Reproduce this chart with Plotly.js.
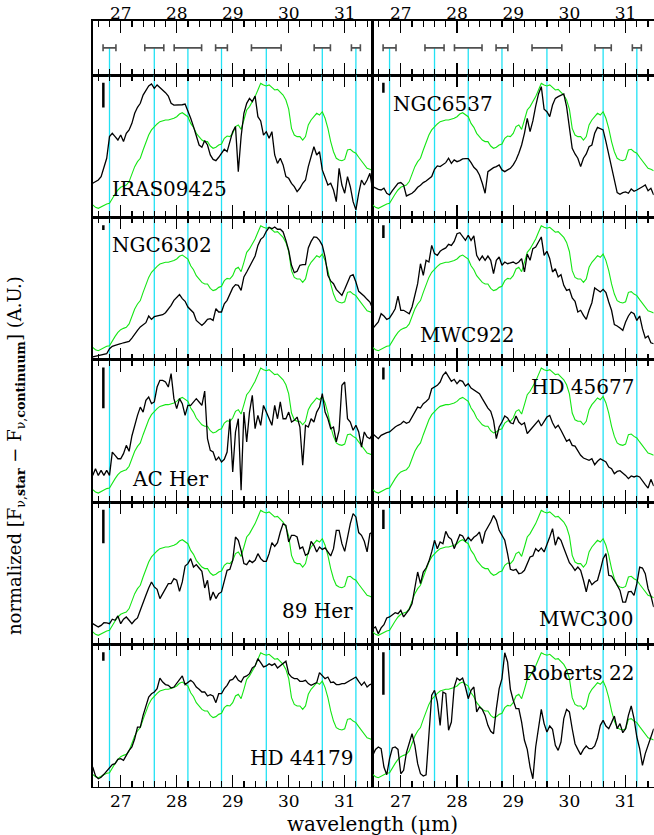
<!DOCTYPE html>
<html>
<head>
<meta charset="utf-8">
<script src="https://cdn.plot.ly/plotly-3.0.1.min.js"></script>
<style>html,body{margin:0;padding:0;background:#fff;}#chart{width:654px;height:835px;}</style>
</head>
<body>
<div id="chart"></div>
<script>
// ---------------- DATA ----------------
const wavelength = [26.50,26.55,26.60,26.65,26.70,26.75,26.80,26.85,26.90,26.95,
27.00,27.05,27.10,27.15,27.20,27.25,27.30,27.35,27.40,27.45,
27.50,27.55,27.60,27.65,27.70,27.75,27.80,27.85,27.90,27.95,
28.00,28.05,28.10,28.15,28.20,28.25,28.30,28.35,28.40,28.45,
28.50,28.55,28.60,28.65,28.70,28.75,28.80,28.85,28.90,28.95,
29.00,29.05,29.10,29.15,29.20,29.25,29.30,29.35,29.40,29.45,
29.50,29.55,29.60,29.65,29.70,29.75,29.80,29.85,29.90,29.95,
30.00,30.05,30.10,30.15,30.20,30.25,30.30,30.35,30.40,30.45,
30.50,30.55,30.60,30.65,30.70,30.75,30.80,30.85,30.90,30.95,
31.00,31.05,31.10,31.15,31.20,31.25,31.30,31.35,31.40,31.45,31.50];

const features = [26.8, 27.6, 28.2, 28.8, 29.6, 30.6, 31.2];
const featureHalfWidth = [0.115, 0.17, 0.245, 0.105, 0.265, 0.145, 0.08];

// green comparison template (same in every panel)
const template = [0.087,0.070,0.063,0.075,0.087,0.094,0.098,0.133,0.164,0.192,
0.211,0.220,0.227,0.251,0.309,0.356,0.391,0.415,0.473,0.532,
0.578,0.614,0.637,0.656,0.672,0.679,0.684,0.684,0.689,0.696,
0.707,0.726,0.735,0.719,0.707,0.660,0.632,0.590,0.567,0.543,
0.532,0.532,0.501,0.485,0.492,0.508,0.515,0.555,0.571,0.567,
0.590,0.637,0.649,0.618,0.684,0.754,0.778,0.813,0.848,0.895,
0.941,0.930,0.923,0.930,0.913,0.895,0.899,0.876,0.859,0.824,
0.760,0.625,0.578,0.567,0.567,0.543,0.567,0.649,0.684,0.707,
0.731,0.719,0.742,0.696,0.625,0.532,0.461,0.415,0.403,0.398,
0.407,0.473,0.478,0.461,0.450,0.422,0.398,0.368,0.344,0.337,0.328];

const IRAS09425 = [0.239,0.248,0.262,0.286,0.344,0.415,0.567,0.590,0.567,0.543,
0.578,0.532,0.590,0.614,0.660,0.731,0.773,0.801,0.859,0.895,
0.923,0.937,0.906,0.930,0.913,0.890,0.876,0.852,0.801,0.789,
0.789,0.787,0.791,0.796,0.749,0.696,0.637,0.578,0.508,0.492,
0.539,0.508,0.438,0.407,0.398,0.422,0.454,0.478,0.461,0.532,
0.602,0.637,0.321,0.567,0.731,0.801,0.836,0.813,0.852,0.707,
0.677,0.578,0.602,0.555,0.602,0.438,0.379,0.415,0.368,0.286,
0.274,0.239,0.215,0.180,0.204,0.239,0.262,0.356,0.426,0.496,
0.438,0.461,0.333,0.274,0.227,0.239,0.192,0.110,0.344,0.227,
0.169,0.286,0.215,0.110,0.052,0.169,0.262,0.227,0.262,0.309,0.192];

const NGC6537 = [0.215,0.204,0.197,0.192,0.204,0.169,0.157,0.187,0.215,0.239,
0.244,0.227,0.150,0.159,0.169,0.187,0.211,0.225,0.244,0.255,
0.272,0.286,0.337,0.361,0.356,0.368,0.384,0.415,0.379,0.403,
0.391,0.398,0.410,0.412,0.412,0.384,0.351,0.333,0.297,0.239,
0.169,0.321,0.337,0.349,0.356,0.368,0.333,0.321,0.333,0.344,
0.368,0.403,0.450,0.508,0.590,0.696,0.602,0.677,0.782,0.867,
0.918,0.759,0.742,0.707,0.789,0.836,0.848,0.859,0.867,0.778,
0.614,0.485,0.445,0.415,0.356,0.415,0.445,0.496,0.508,0.590,
0.632,0.625,0.614,0.532,0.438,0.356,0.251,0.173,0.162,0.173,
0.178,0.169,0.199,0.183,0.192,0.201,0.215,0.227,0.187,0.204,0.157];

const NGC6302 = [0.019,0.023,0.026,0.030,0.035,0.042,0.077,0.094,0.101,0.105,
0.112,0.119,0.124,0.129,0.152,0.183,0.206,0.230,0.246,0.260,
0.307,0.283,0.302,0.307,0.311,0.316,0.330,0.354,0.382,0.417,
0.440,0.457,0.429,0.410,0.370,0.347,0.330,0.276,0.258,0.241,
0.260,0.283,0.288,0.276,0.358,0.335,0.335,0.393,0.417,0.464,
0.504,0.527,0.522,0.487,0.581,0.616,0.651,0.691,0.728,0.803,
0.845,0.862,0.902,0.930,0.920,0.932,0.916,0.916,0.897,0.838,
0.768,0.663,0.611,0.621,0.663,0.667,0.667,0.785,0.831,0.862,
0.859,0.838,0.803,0.721,0.593,0.553,0.534,0.494,0.475,0.452,
0.494,0.541,0.588,0.597,0.546,0.480,0.464,0.445,0.424,0.405,0.358];

const MWC922 = [0.218,0.246,0.265,0.323,0.307,0.283,0.293,0.323,0.358,0.447,
0.347,0.347,0.335,0.323,0.370,0.452,0.534,0.674,0.593,0.698,
0.686,0.803,0.745,0.733,0.761,0.775,0.785,0.810,0.803,0.831,
0.885,0.892,0.862,0.838,0.874,0.838,0.869,0.733,0.698,0.728,
0.698,0.728,0.698,0.604,0.698,0.721,0.663,0.686,0.674,0.681,
0.686,0.674,0.686,0.710,0.616,0.742,0.698,0.780,0.791,0.827,
0.862,0.733,0.761,0.710,0.616,0.639,0.581,0.597,0.522,0.487,
0.494,0.433,0.410,0.335,0.347,0.311,0.283,0.347,0.400,0.504,
0.487,0.476,0.494,0.471,0.405,0.347,0.246,0.237,0.222,0.206,
0.265,0.307,0.335,0.323,0.276,0.307,0.218,0.152,0.166,0.119,0.112];

const ACHer = [0.187,0.234,0.187,0.222,0.187,0.222,0.187,0.351,0.328,0.304,
0.304,0.340,0.398,0.356,0.464,0.539,0.609,0.667,0.632,0.714,
0.738,0.691,0.703,0.808,0.855,0.855,0.843,0.808,0.902,0.726,
0.656,0.726,0.691,0.609,0.679,0.679,0.703,0.726,0.703,0.679,
0.780,0.445,0.363,0.351,0.293,0.316,0.281,0.300,0.351,0.585,
0.211,0.492,0.585,0.082,0.632,0.422,0.632,0.749,0.515,0.609,
0.539,0.679,0.632,0.585,0.539,0.679,0.585,0.703,0.585,0.585,
0.632,0.562,0.574,0.597,0.527,0.258,0.539,0.527,0.585,0.562,
0.632,0.667,0.761,0.632,0.585,0.515,0.527,0.422,0.504,0.820,
0.843,0.585,0.562,0.504,0.539,0.492,0.386,0.492,0.457,0.445,0.480];

const HD45677 = [0.480,0.464,0.445,0.468,0.478,0.487,0.492,0.511,0.527,0.539,
0.548,0.567,0.553,0.562,0.597,0.632,0.667,0.660,0.691,0.707,
0.726,0.796,0.808,0.820,0.843,0.890,0.913,0.878,0.848,0.862,
0.831,0.855,0.848,0.815,0.831,0.801,0.789,0.778,0.761,0.726,
0.691,0.660,0.637,0.574,0.445,0.527,0.562,0.604,0.590,0.557,
0.550,0.604,0.562,0.543,0.557,0.480,0.504,0.527,0.543,0.574,
0.534,0.562,0.597,0.609,0.557,0.520,0.539,0.504,0.464,0.426,
0.440,0.398,0.393,0.363,0.328,0.309,0.300,0.293,0.304,0.262,
0.286,0.304,0.293,0.281,0.246,0.234,0.199,0.215,0.220,0.206,
0.187,0.164,0.183,0.176,0.183,0.176,0.145,0.122,0.098,0.159,0.112];

const Her89 = [0.145,0.133,0.122,0.133,0.152,0.150,0.145,0.176,0.169,0.199,
0.145,0.176,0.192,0.169,0.145,0.169,0.185,0.239,0.297,0.344,
0.396,0.438,0.403,0.386,0.321,0.356,0.391,0.426,0.426,0.461,
0.450,0.372,0.438,0.550,0.567,0.602,0.543,0.560,0.536,0.513,
0.396,0.450,0.309,0.368,0.321,0.356,0.368,0.450,0.520,0.527,
0.590,0.754,0.731,0.660,0.567,0.560,0.590,0.574,0.590,0.637,
0.602,0.583,0.583,0.637,0.714,0.688,0.714,0.789,0.848,0.836,
0.719,0.766,0.766,0.754,0.672,0.684,0.625,0.637,0.724,0.696,
0.649,0.684,0.667,0.677,0.649,0.621,0.672,0.801,0.801,0.707,
0.653,0.754,0.848,0.918,0.895,0.785,0.766,0.724,0.649,0.778,0.789];

const MWC300 = [0.110,0.122,0.075,0.115,0.138,0.185,0.192,0.208,0.222,0.215,
0.239,0.192,0.215,0.246,0.286,0.391,0.508,0.426,0.508,0.536,
0.583,0.649,0.731,0.672,0.719,0.707,0.794,0.754,0.738,0.672,
0.719,0.770,0.761,0.724,0.752,0.728,0.752,0.766,0.789,0.707,
0.789,0.824,0.859,0.906,0.871,0.801,0.766,0.731,0.637,0.527,
0.520,0.527,0.496,0.501,0.520,0.574,0.614,0.621,0.672,0.653,
0.677,0.649,0.696,0.754,0.813,0.696,0.754,0.731,0.677,0.625,
0.574,0.550,0.520,0.543,0.520,0.450,0.368,0.457,0.419,0.438,
0.450,0.520,0.602,0.637,0.485,0.480,0.450,0.415,0.379,0.297,
0.297,0.368,0.372,0.344,0.426,0.543,0.536,0.496,0.391,0.340,0.262];

const HD44179 = [0.138,0.075,0.056,0.066,0.087,0.108,0.136,0.155,0.162,0.192,
0.197,0.185,0.220,0.255,0.279,0.337,0.419,0.419,0.501,0.567,
0.630,0.653,0.665,0.689,0.763,0.735,0.717,0.712,0.693,0.700,
0.724,0.747,0.778,0.717,0.735,0.747,0.731,0.700,0.684,0.665,
0.665,0.637,0.646,0.637,0.590,0.653,0.653,0.689,0.712,0.747,
0.754,0.778,0.747,0.735,0.770,0.778,0.794,0.834,0.848,0.899,
0.871,0.841,0.848,0.864,0.852,0.864,0.834,0.848,0.864,0.881,
0.794,0.770,0.759,0.759,0.740,0.740,0.747,0.724,0.712,0.724,
0.731,0.801,0.778,0.759,0.770,0.731,0.735,0.717,0.717,0.724,
0.724,0.735,0.747,0.759,0.770,0.740,0.712,0.735,0.700,0.717,0.724];

const Roberts22 = [0.220,0.262,0.279,0.267,0.138,0.084,0.197,0.272,0.279,0.262,
0.091,0.115,0.239,0.302,0.372,0.290,0.162,0.091,0.075,0.084,
0.384,0.642,0.677,0.595,0.431,0.665,0.654,0.396,0.454,0.700,
0.763,0.747,0.763,0.700,0.618,0.677,0.700,0.525,0.560,0.543,
0.501,0.431,0.389,0.372,0.548,0.689,0.759,0.941,0.876,0.684,
0.607,0.548,0.548,0.454,0.326,0.262,0.138,0.056,0.279,0.431,
0.543,0.443,0.384,0.426,0.403,0.290,0.255,0.314,0.478,0.543,
0.525,0.407,0.302,0.262,0.225,0.262,0.286,0.267,0.267,0.286,
0.342,0.431,0.466,0.426,0.407,0.450,0.496,0.407,0.443,0.379,
0.407,0.501,0.567,0.478,0.349,0.267,0.150,0.232,0.286,0.349,0.407];

// panel order: row by row, left then right
const starNames = ['IRAS09425','NGC6537','NGC6302','MWC922','AC Her','HD 45677','89 Her','MWC300','HD 44179','Roberts 22'];
const starSpectra = [IRAS09425, NGC6537, NGC6302, MWC922, ACHer, HD45677, Her89, MWC300, HD44179, Roberts22];
const scaleBarLength = [0.173, 0.07, 0.035, 0.09, 0.286, 0.085, 0.235, 0.135, 0.06, 0.30];

// ---------------- LAYOUT (positions/styles) ----------------
const W = 654, H = 835;
const FONT = 'DejaVu Serif';
const colPx = [[92.7, 372.7], [372.7, 653.7]];
const topPx = [20.7, 75];
const rowPx = [[75, 217.3], [217.3, 359.7], [359.7, 502], [502, 644.3], [644.3, 786.7]];
const labelPos = [
  {x: 26.81, y: 0.197, a: 'left'}, {x: 26.82, y: 0.794, a: 'left'},
  {x: 26.80, y: 0.804, a: 'left'}, {x: 27.31, y: 0.171, a: 'left'},
  {x: 27.16, y: 0.164, a: 'left'}, {x: 31.19, y: 0.808, a: 'right'},
  {x: 31.19, y: 0.232, a: 'right'}, {x: 31.19, y: 0.18, a: 'right'},
  {x: 31.19, y: 0.204, a: 'right'}, {x: 31.19, y: 0.80, a: 'right'}
];
const scaleBarX = 26.69, scaleBarTop = 0.945;
const CYAN = '#22e2f4', GREEN = '#14e614';

const xd = p => [p[0] / W, p[1] / W];
const yd = p => [1 - p[1] / H, 1 - p[0] / H];
const axName = (c, i) => c + (i === 1 ? '' : i);
const axRef = (c, i) => c + (i === 1 ? '' : i);

const layout = {
  width: W, height: H, margin: {l: 0, r: 0, t: 0, b: 0},
  paper_bgcolor: '#fff', plot_bgcolor: 'rgba(0,0,0,0)',
  showlegend: false, hovermode: false,
  font: {family: FONT, color: '#000'},
  annotations: []
};
const traces = [];

function xAxis(dom, anchor, extra) {
  return Object.assign({
    domain: dom, anchor: anchor, range: [26.5, 31.5],
    showgrid: false, zeroline: false, showline: true, linecolor: '#000', linewidth: 1.5,
    mirror: 'ticks', ticks: 'inside', ticklen: 12, tickwidth: 1.2, tickcolor: '#000',
    tickmode: 'linear', tick0: 27, dtick: 1,
    minor: {ticks: 'inside', ticklen: 6, tickwidth: 1.2, tickcolor: '#000', tickmode: 'linear', tick0: 27, dtick: 0.2, showgrid: false},
    showticklabels: false, tickfont: {family: FONT, size: 17, color: '#000'}, fixedrange: true
  }, extra || {});
}
function yAxis(dom, anchor) {
  return {domain: dom, anchor: anchor, range: [0, 1], showgrid: false, zeroline: false,
    showline: true, linecolor: '#000', linewidth: 1.5, mirror: true, ticks: '',
    showticklabels: false, fixedrange: true};
}
function cyanTrace(i, ytop) {
  const xs = [], ys = [];
  features.forEach(f => { xs.push(f, f, null); ys.push(0, ytop, null); });
  return {x: xs, y: ys, xaxis: axRef('x', i), yaxis: axRef('y', i), mode: 'lines',
    line: {color: CYAN, width: 1.3}, hoverinfo: 'skip'};
}

// top error-bar panels (indices 1, 2)
for (let c = 0; c < 2; c++) {
  const i = c + 1;
  layout[axName('xaxis', i)] = xAxis(xd(colPx[c]), axRef('y', i), {side: 'top', showticklabels: true, ticklabelstandoff: -7});
  layout[axName('yaxis', i)] = yAxis(yd(topPx), axRef('x', i));
  traces.push(cyanTrace(i, 0.5));
  traces.push({x: features, y: features.map(() => 0.5), xaxis: axRef('x', i), yaxis: axRef('y', i),
    mode: 'markers', marker: {size: 1, color: 'rgba(0,0,0,0)'},
    error_x: {type: 'data', array: featureHalfWidth, symmetric: true, color: '#505050', thickness: 1.6, width: 3.5},
    hoverinfo: 'skip'});
}

// spectrum panels (indices 3..12)
starNames.forEach((name, k) => {
  const i = k + 3, row = Math.floor(k / 2), col = k % 2;
  const extra = row === 4 ? {side: 'bottom', showticklabels: true, ticklabelstandoff: -2} : {};
  layout[axName('xaxis', i)] = xAxis(xd(colPx[col]), axRef('y', i), extra);
  layout[axName('yaxis', i)] = yAxis(yd(rowPx[row]), axRef('x', i));
  const xr = axRef('x', i), yr = axRef('y', i);
  traces.push(cyanTrace(i, 1));
  traces.push({x: wavelength, y: template, xaxis: xr, yaxis: yr, mode: 'lines',
    line: {color: GREEN, width: 1.1}, hoverinfo: 'skip'});
  traces.push({x: wavelength, y: starSpectra[k], xaxis: xr, yaxis: yr, mode: 'lines',
    line: {color: '#000', width: 1.3}, hoverinfo: 'skip'});
  traces.push({x: [scaleBarX, scaleBarX], y: [scaleBarTop, scaleBarTop - scaleBarLength[k]],
    xaxis: xr, yaxis: yr, mode: 'lines', line: {color: '#000', width: 2.5}, hoverinfo: 'skip'});
  const lp = labelPos[k];
  layout.annotations.push({x: lp.x, y: lp.y, xref: xr, yref: yr, text: name, showarrow: false,
    xanchor: lp.a, yanchor: 'middle', font: {family: FONT, size: 20, color: '#000'}});
});

// axis titles
layout.annotations.push({x: 372.7 / W, y: 1 - 824 / H, xref: 'paper', yref: 'paper',
  text: 'wavelength (μm)', showarrow: false, xanchor: 'center', yanchor: 'middle',
  font: {family: FONT, size: 20, color: '#000'}});
layout.annotations.push({x: 16 / W, y: 1 - 456 / H, xref: 'paper', yref: 'paper', textangle: -90,
  text: 'normalized [F<sub>ν,<b>star</b></sub> − F<sub>ν,<b>continuum</b></sub>] (A.U.)', showarrow: false,
  xanchor: 'center', yanchor: 'middle', font: {family: FONT, size: 18, color: '#000'}});

Plotly.newPlot('chart', traces, layout, {staticPlot: true, displayModeBar: false});
</script>
</body>
</html>
